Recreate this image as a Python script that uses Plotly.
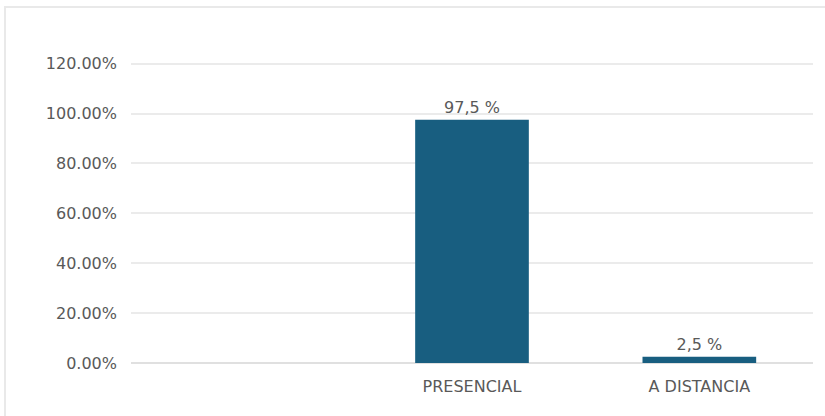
import plotly.graph_objects as go

# Modalidad de estudio: percentage per category (first slot intentionally empty)
categories = ["", "PRESENCIAL", "A DISTANCIA"]
values = [None, 97.5, 2.5]
y_ticks = [0, 20, 40, 60, 80, 100, 120]

BAR_COLOR = "#185e80"
TEXT_COLOR = "#595959"
GRID_COLOR = "#ebebeb"
FONT = "DejaVu Sans, Arial, sans-serif"

W, H = 825, 416
Y_MAX = 121.5
PX_PER_UNIT = 299 / 120
ML, MR, MB = 131, 12, 53
MT = round(H - MB - Y_MAX * PX_PER_UNIT)

x_pos = list(range(len(categories)))
labels = ["" if v is None else f"{v:.1f}".replace(".", ",") + " %" for v in values]

fig = go.Figure(
    go.Bar(
        x=x_pos,
        y=values,
        width=0.5,
        marker=dict(color=BAR_COLOR, line=dict(width=0)),
        text=labels,
        textposition="outside",
        textfont=dict(family=FONT, size=16, color=TEXT_COLOR),
        cliponaxis=False,
        hoverinfo="skip",
    )
)

plot_w = W - ML - MR
plot_h = H - MT - MB


def px_x(p):
    return (p - ML) / plot_w


def px_y(p):
    return (H - MB - p) / plot_h


# thin light frame around the chart card
fig.add_shape(
    type="rect", xref="paper", yref="paper",
    x0=px_x(5), x1=px_x(W + 5), y0=px_y(H + 5), y1=px_y(7),
    line=dict(color="#e9e9e9", width=2), fillcolor="rgba(0,0,0,0)", layer="below",
)

fig.update_layout(
    width=W,
    height=H,
    margin=dict(l=ML, r=MR, t=MT, b=MB, pad=0),
    paper_bgcolor="white",
    plot_bgcolor="white",
    showlegend=False,
    font=dict(family=FONT, size=16, color=TEXT_COLOR),
    xaxis=dict(
        tickmode="array",
        tickvals=x_pos,
        ticktext=categories,
        range=[-0.5, len(categories) - 0.5],
        showgrid=False,
        zeroline=False,
        showline=False,
        ticks="",
        ticklabelstandoff=12,
        tickfont=dict(family=FONT, size=16, color=TEXT_COLOR),
        fixedrange=True,
    ),
    yaxis=dict(
        range=[0, Y_MAX],
        tickmode="array",
        tickvals=y_ticks,
        ticktext=[f"{t:.2f}%" for t in y_ticks],
        showgrid=True,
        gridcolor=GRID_COLOR,
        gridwidth=1.5,
        zeroline=True,
        zerolinecolor="#e0e0e0",
        zerolinewidth=1.5,
        showline=False,
        ticks="",
        ticklabelstandoff=13,
        tickfont=dict(family=FONT, size=16, color=TEXT_COLOR),
        fixedrange=True,
    ),
)

fig.write_html("out.html")
